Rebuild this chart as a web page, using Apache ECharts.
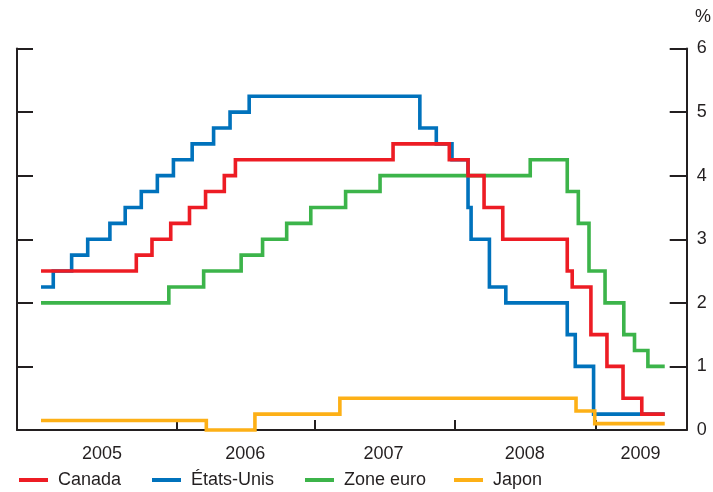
<!DOCTYPE html>
<html>
<head>
<meta charset="utf-8">
<script src="https://cdn.jsdelivr.net/npm/echarts@6/dist/echarts.min.js"></script>
<style>
html,body{margin:0;padding:0;background:#fff;}
#chart{width:713px;height:492px;}
</style>
</head>
<body>
<div id="chart"></div>
<script>
// ---- Data (policy rates, %) ----
const canadaDates = ['2005-01-01','2005-09-07','2005-10-18','2005-12-06','2006-01-24','2006-03-07','2006-04-25','2006-05-24','2007-07-10','2007-12-04','2008-01-22','2008-03-04','2008-04-22','2008-10-08','2008-10-21','2008-12-09','2009-01-20','2009-03-03','2009-04-21','2009-06-20'];
const canadaRates = [2.5,2.75,3.0,3.25,3.5,3.75,4.0,4.25,4.5,4.25,4.0,3.5,3.0,2.5,2.25,1.5,1.0,0.5,0.25,0.25];

const usDates = ['2005-01-01','2005-02-02','2005-03-22','2005-05-03','2005-06-30','2005-08-09','2005-09-20','2005-11-01','2005-12-13','2006-01-31','2006-03-28','2006-05-10','2006-06-29','2007-09-18','2007-10-31','2007-12-11','2008-01-22','2008-01-30','2008-03-18','2008-04-30','2008-10-08','2008-10-29','2008-12-16','2009-06-20'];
const usRates = [2.25,2.5,2.75,3.0,3.25,3.5,3.75,4.0,4.25,4.5,4.75,5.0,5.25,4.75,4.5,4.25,3.5,3.0,2.25,2.0,1.5,1.0,0.25,0.25];

const euroDates = ['2005-01-01','2005-12-01','2006-03-02','2006-06-08','2006-08-03','2006-10-05','2006-12-07','2007-03-08','2007-06-06','2008-07-03','2008-10-08','2008-11-06','2008-12-04','2009-01-15','2009-03-05','2009-04-02','2009-05-07','2009-06-20'];
const euroRates = [2.0,2.25,2.5,2.75,3.0,3.25,3.5,3.75,4.0,4.25,3.75,3.25,2.5,2.0,1.5,1.25,1.0,1.0];

const japanDates = ['2005-01-01','2006-03-09','2006-07-14','2007-02-21','2008-10-31','2008-12-19','2009-06-20'];
const japanRates = [0.15,0,0.25,0.5,0.3,0.1,0.1];

const yearLabels = ['2005','2006','2007','2008','2009'];
const yTicks = [0,1,2,3,4,5,6];

// ---- helpers ----
function toYear(s){
  const p = s.split('-').map(Number);
  const y = p[0];
  const start = Date.UTC(y,0,1), end = Date.UTC(y+1,0,1);
  return y + (Date.UTC(y,p[1]-1,p[2]) - start)/(end-start);
}
function pairs(dates, vals){ return dates.map((d,i)=>[toYear(d), vals[i]]); }

const FONT = 'Liberation Sans, Arial, sans-serif';
const INK = '#231f20';
const C = {canada:'#ed1c24', us:'#0072bc', euro:'#3cb44a', japan:'#fdb016'};

const xMin = 2004.828, xMax = 2009.623;
const tickPos = [2005.971, 2006.963, 2007.964, 2008.970];
const labelPos = [2005.437, 2006.463, 2007.452, 2008.463, 2009.292];

function lineSeries(name, data, color, z){
  return {name, type:'line', step:'end', data, showSymbol:false, symbol:'none',
    clip:false, z, lineStyle:{color, width:3.6, cap:'butt', join:'miter'}, itemStyle:{color},
    emphasis:{disabled:true}, animation:false};
}
function legendAt(name, left){
  return {data:[name], left, top:471, padding:0, icon:'rect', itemWidth:29, itemHeight:4,
    selectedMode:false, textStyle:{fontFamily:FONT, fontSize:18, color:INK, padding:[0,0,0,5]}};
}

const chart = echarts.init(document.getElementById('chart'), null, {renderer:'canvas'});
chart.setOption({
  backgroundColor:'#fff',
  animation:false,
  title:{text:'%', left:695, top:8, padding:0, textStyle:{fontFamily:FONT, fontSize:18, fontWeight:'normal', color:INK}},
  legend:[legendAt('Canada',19), legendAt('États-Unis',152), legendAt('Zone euro',305), legendAt('Japon',454)],
  grid:{left:17, right:26.3, top:48.5, bottom:62, containLabel:false},
  xAxis:{type:'value', min:xMin, max:xMax,
    axisLine:{show:true, lineStyle:{color:INK, width:2}},
    axisTick:{show:true, inside:true, length:10, lineStyle:{color:INK, width:2}, customValues:tickPos},
    axisLabel:{show:true, customValues:labelPos, margin:15, fontFamily:FONT, fontSize:18, color:INK,
      formatter:(v)=>{ const i = labelPos.findIndex(p=>Math.abs(p-v)<1e-6); return i>=0?yearLabels[i]:''; }},
    splitLine:{show:false}},
  yAxis:[
    {type:'value', position:'left', min:yTicks[0], max:yTicks[yTicks.length-1], interval:1,
      axisLine:{show:true, lineStyle:{color:INK, width:2}},
      axisTick:{show:true, inside:true, length:16, lineStyle:{color:INK, width:2}},
      axisLabel:{show:false}, splitLine:{show:false}},
    {type:'value', position:'right', min:yTicks[0], max:yTicks[yTicks.length-1], interval:1,
      axisLine:{show:true, lineStyle:{color:INK, width:2}},
      axisTick:{show:true, inside:true, length:17, lineStyle:{color:INK, width:2}},
      axisLabel:{show:true, margin:10, fontFamily:FONT, fontSize:18, color:INK}, splitLine:{show:false}}
  ],
  series:[
    lineSeries('États-Unis', pairs(usDates,usRates), C.us, 2),
    lineSeries('Zone euro', pairs(euroDates,euroRates), C.euro, 3),
    lineSeries('Japon', pairs(japanDates,japanRates), C.japan, 4),
    lineSeries('Canada', pairs(canadaDates,canadaRates), C.canada, 5)
  ]
});
</script>
</body>
</html>
